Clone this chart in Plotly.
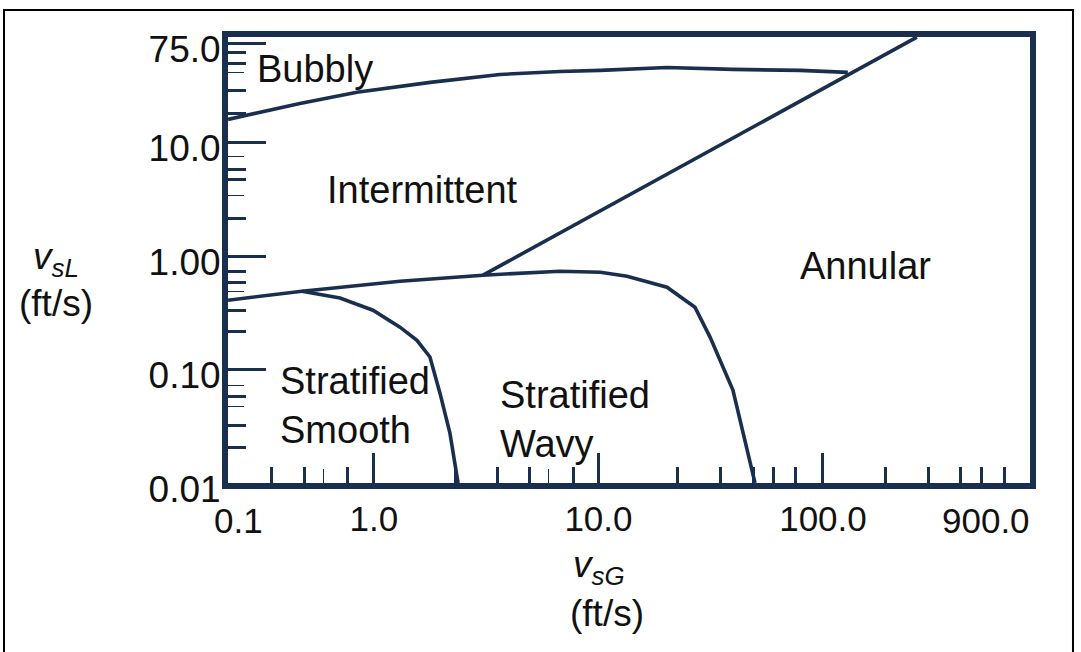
import numpy as np
import plotly.graph_objects as go

# ---- Flow-regime boundaries: superficial gas velocity vs superficial liquid velocity (ft/s)
bubbly_vsg = [0.224, 0.468, 0.840, 1.78, 3.64, 6.74, 10.2, 20.2, 39.7, 79.0, 129.0]
bubbly_vsl = [16.0, 22.1, 27.7, 33.9, 39.8, 42.3, 43.2, 45.9, 44.1, 43.2, 41.5]

annular_vsg = [3.06, 262.0]
annular_vsl = [0.678, 85.0]

stratified_top_vsg = [0.224, 0.478, 1.306, 3.06, 6.74, 10.2, 13.4, 20.2, 26.9, 31.4, 39.7, 49.8]
stratified_top_vsl = [0.408, 0.490, 0.600, 0.678, 0.734, 0.719, 0.664, 0.531, 0.354, 0.193, 0.0659, 0.01]

smooth_wavy_vsg = [0.478, 0.706, 0.990, 1.306, 1.554, 1.776, 1.968, 2.18, 2.37]
smooth_wavy_vsl = [0.490, 0.426, 0.333, 0.236, 0.181, 0.129, 0.0619, 0.0275, 0.01]

# ---- Regime names (left edge / vertical middle of each text block)
region_text = ["Bubbly", "Intermittent", "Annular", "Stratified<br>Smooth", "Stratified<br>Wavy"]
region_vsg = [0.295, 0.605, 77.4, 0.374, 3.57]
region_vsl = [44.1, 3.80, 0.813, 0.0486, 0.0366]

# ---- Axes
x_range_log = [-0.650, 2.922]
y_range_log = [-2.0, 1.93]

x_major_vals = [1, 10, 100]
x_major_text = ["1.0", "10.0", "100.0"]
x_end_text = ["0.1", "900.0"]
x_minor_vals = [0.350, 0.489, 0.760, 2.30, 3.56, 4.95, 7.72, 22.4, 35.0, 48.8, 60.5,
                75.8, 189, 294, 410, 509, 640]
x_fine_vals = [0.594, 5.98]

y_major_vals = [0.01, 0.1, 1, 10, 75]
y_major_text = ["0.01", "0.10", "1.00", "10.0", "75.0"]
y_minor_vals = [0.0205, 0.0324, 0.0575, 0.215, 0.334, 0.585, 0.724, 2.14, 4.71, 5.81,
                17.9, 28.8, 49.5, 62.6]
y_fine_vals = [0.0470, 0.0730, 0.483, 3.43, 7.56, 41.8]

NAVY = "#1a2f4d"
FONT = "Liberation Sans, Arial, sans-serif"

fig = go.Figure()

line_style = dict(color=NAVY, width=3.6)
for xs, ys in [(bubbly_vsg, bubbly_vsl), (annular_vsg, annular_vsl),
               (stratified_top_vsg, stratified_top_vsl), (smooth_wavy_vsg, smooth_wavy_vsl)]:
    fig.add_trace(go.Scatter(x=xs, y=ys, mode="lines", line=line_style,
                             hoverinfo="skip", showlegend=False))

# invisible trace that carries the overlay axes used for the fine tick marks
fig.add_trace(go.Scatter(x=[1], y=[1], xaxis="x2", yaxis="y2", mode="markers",
                         marker=dict(size=1, opacity=0), hoverinfo="skip", showlegend=False))

for txt, xv, yv in zip(region_text, region_vsg, region_vsl):
    fig.add_annotation(x=np.log10(xv), y=np.log10(yv), xref="x", yref="y",
                       text=txt, showarrow=False, xanchor="left", yanchor="middle",
                       align="left", font=dict(family=FONT, size=38, color="#111111"))

# axis titles
title_font = dict(family=FONT, size=37, color="#111111")
fig.add_annotation(x=-0.214, y=0.502, xref="paper", yref="paper", showarrow=False,
                   text="<i>v</i><sub><i>sL</i></sub>", font=title_font,
                   xanchor="center", yanchor="middle")
fig.add_annotation(x=-0.214, y=0.402, xref="paper", yref="paper", showarrow=False,
                   text="(ft/s)", font=title_font, xanchor="center", yanchor="middle")
fig.add_annotation(x=0.463, y=-0.188, xref="paper", yref="paper", showarrow=False,
                   text="<i>v</i><sub><i>sG</i></sub>", font=title_font,
                   xanchor="center", yanchor="middle")
fig.add_annotation(x=0.4726, y=-0.2935, xref="paper", yref="paper", showarrow=False,
                   text="(ft/s)", font=title_font, xanchor="center", yanchor="middle")

# labels at the two ends of the gas-velocity axis
x_tick_font = dict(family=FONT, size=35, color="#111111")
y_tick_font = dict(family=FONT, size=37, color="#111111")
fig.add_annotation(x=0, y=0, xref="paper", yref="paper", showarrow=False,
                   text=x_end_text[0], font=x_tick_font, xanchor="center", yanchor="top",
                   xshift=10, yshift=-16)
fig.add_annotation(x=1, y=0, xref="paper", yref="paper", showarrow=False,
                   text=x_end_text[1], font=x_tick_font, xanchor="right", yanchor="top",
                   xshift=2, yshift=-16)

# thin outer border
fig.add_shape(type="rect", xref="paper", yref="paper",
              x0=-0.2793, x1=1.0536, y0=-0.40, y1=1.0605,
              line=dict(color="black", width=2), fillcolor="rgba(0,0,0,0)")

fig.update_layout(
    width=1081, height=652,
    margin=dict(l=228, r=51, t=37, b=169),
    paper_bgcolor="white", plot_bgcolor="white",
    showlegend=False,
    xaxis=dict(
        type="log", range=x_range_log, showgrid=False, zeroline=False,
        showline=True, linewidth=6, linecolor=NAVY, mirror=True,
        tickmode="array", tickvals=x_major_vals, ticktext=x_major_text,
        ticks="inside", ticklen=30, tickwidth=3, tickcolor=NAVY,
        tickfont=x_tick_font,
        minor=dict(tickmode="array", tickvals=x_minor_vals, ticks="inside",
                   ticklen=16, tickwidth=3, tickcolor=NAVY, showgrid=False),
    ),
    yaxis=dict(
        type="log", range=y_range_log, showgrid=False, zeroline=False,
        showline=True, linewidth=6, linecolor=NAVY, mirror=True,
        tickmode="array", tickvals=y_major_vals, ticktext=y_major_text,
        ticks="inside", ticklen=38, tickwidth=3, tickcolor=NAVY,
        tickfont=y_tick_font, ticklabelshift=6, ticklabelstandoff=-6,
        minor=dict(tickmode="array", tickvals=y_minor_vals, ticks="inside",
                   ticklen=18, tickwidth=3, tickcolor=NAVY, showgrid=False),
    ),
    xaxis2=dict(
        type="log", range=x_range_log, overlaying="x", anchor="y", side="bottom",
        showgrid=False, zeroline=False, showline=False, showticklabels=False,
        tickmode="array", tickvals=x_fine_vals, ticks="inside", ticklen=14,
        tickwidth=1.2, tickcolor=NAVY,
    ),
    yaxis2=dict(
        type="log", range=y_range_log, overlaying="y", anchor="x", side="left",
        showgrid=False, zeroline=False, showline=False, showticklabels=False,
        tickmode="array", tickvals=y_fine_vals, ticks="inside", ticklen=16,
        tickwidth=1.2, tickcolor=NAVY,
    ),
)

fig.write_html("out.html")
